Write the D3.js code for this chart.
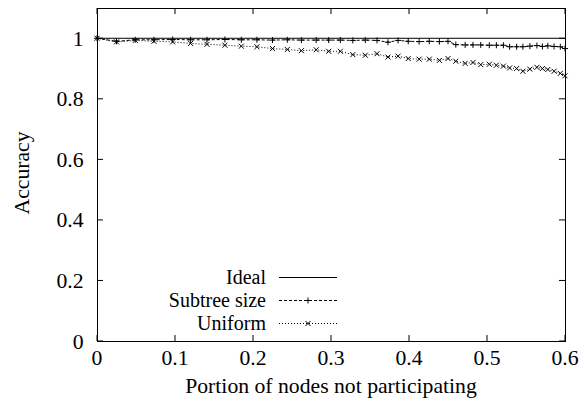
<!DOCTYPE html>
<html><head><meta charset="utf-8">
<script src="https://cdn.jsdelivr.net/npm/d3@7"></script>
<style>
html,body{margin:0;padding:0;background:#fff;}
</style></head>
<body><svg id="c" width="585" height="407"></svg>
<script>
const xValues = [0,0.025,0.049,0.073,0.097,0.120,0.141,0.164,0.185,0.205,0.225,0.244,0.262,0.281,0.297,0.312,0.328,0.344,0.359,0.373,0.386,0.399,0.413,0.426,0.439,0.450,0.460,0.472,0.482,0.492,0.503,0.512,0.521,0.529,0.538,0.546,0.555,0.564,0.571,0.578,0.586,0.594,0.600];
const subtreeValues = [1.0,0.99,0.995,0.995,0.996,0.995,0.995,0.996,0.995,0.995,0.994,0.995,0.994,0.994,0.994,0.994,0.993,0.994,0.993,0.987,0.993,0.990,0.989,0.990,0.989,0.990,0.979,0.978,0.978,0.978,0.977,0.977,0.977,0.972,0.972,0.972,0.974,0.976,0.973,0.975,0.973,0.972,0.966];
const uniformValues = [1.0,0.988,0.993,0.990,0.988,0.983,0.980,0.977,0.974,0.972,0.966,0.963,0.959,0.962,0.957,0.957,0.946,0.944,0.949,0.938,0.941,0.933,0.931,0.931,0.927,0.933,0.924,0.917,0.920,0.913,0.914,0.911,0.908,0.902,0.900,0.891,0.898,0.904,0.900,0.897,0.891,0.884,0.876];
const idealValue = 1.0;
const xTicks = [0,0.1,0.2,0.3,0.4,0.5,0.6];
const yTicks = [0,0.2,0.4,0.6,0.8,1];
const legendLabels = ["Ideal","Subtree size","Uniform"];

const FONT = '"Liberation Serif"';
const svg = d3.select("#c");
const L=97, R=565, T=8, B=341;
const x = d3.scaleLinear().domain([0,0.6]).range([L,R]);
const y = d3.scaleLinear().domain([0,1.1]).range([B,T]);
const fs = 21.7;
function txt(sel, size){ return sel.append("text").style("font-family",FONT).attr("font-size",size||fs).attr("fill","#000"); }

const g = svg.append("g");
xTicks.forEach(t=>{
  g.append("line").attr("x1",x(t)).attr("x2",x(t)).attr("y1",B).attr("y2",B-6).attr("stroke","#000");
  g.append("line").attr("x1",x(t)).attr("x2",x(t)).attr("y1",T).attr("y2",T+6).attr("stroke","#000");
  txt(g).attr("x",x(t)).attr("y",365).attr("text-anchor","middle").text(d3.format("")(t));
});
yTicks.forEach(t=>{
  g.append("line").attr("x1",L).attr("x2",L+6).attr("y1",y(t)).attr("y2",y(t)).attr("stroke","#000");
  g.append("line").attr("x1",R).attr("x2",R-6).attr("y1",y(t)).attr("y2",y(t)).attr("stroke","#000");
  txt(g).attr("x",L-13.5).attr("y",y(t)+7.5).attr("text-anchor","end").text(d3.format("")(t));
});
svg.append("rect").attr("x",L+0.5).attr("y",T+0.5).attr("width",R-L).attr("height",B-T).attr("fill","none").attr("stroke","#000").attr("stroke-width",1);

txt(svg).attr("transform","translate(28.5,173) rotate(-90)").attr("text-anchor","middle").text("Accuracy");
txt(svg).attr("x",331).attr("y",393).attr("text-anchor","middle").text("Portion of nodes not participating");

const line = d3.line().x(d=>x(d[0])).y(d=>y(d[1]));
const sub = xValues.map((v,i)=>[v,subtreeValues[i]]);
const uni = xValues.map((v,i)=>[v,uniformValues[i]]);

svg.append("path").attr("d",line([[0,idealValue],[0.6,idealValue]])).attr("fill","none").attr("stroke","#000").attr("stroke-width",1);
svg.append("path").attr("d",line(uni)).attr("fill","none").attr("stroke","#000").attr("stroke-width",1).attr("stroke-dasharray","1,2");
svg.append("path").attr("d",line(sub)).attr("fill","none").attr("stroke","#000").attr("stroke-width",1).attr("stroke-dasharray","3,2");

function plus(sel,cx,cy){ const s=3;
  sel.append("path").attr("d",`M${cx-s},${cy}H${cx+s}M${cx},${cy-s}V${cy+s}`).attr("stroke","#000").attr("fill","none");}
function cross(sel,cx,cy){ const s=2.5;
  sel.append("path").attr("d",`M${cx-s},${cy-s}L${cx+s},${cy+s}M${cx-s},${cy+s}L${cx+s},${cy-s}`).attr("stroke","#000").attr("fill","none");}
const m = svg.append("g");
sub.forEach(d=>plus(m,x(d[0]),y(d[1])));
uni.forEach(d=>cross(m,x(d[0]),y(d[1])));

const lx1=279, lx2=337, ltx=266;
const rows=[277.5,300.5,323.5];
const styles=[null,"3,2","1,2"];
legendLabels.forEach((lab,i)=>{
  txt(svg, 20).attr("x",ltx).attr("y",rows[i]+6.5).attr("text-anchor","end").text(lab);
  const ln=svg.append("line").attr("x1",lx1).attr("x2",lx2).attr("y1",rows[i]).attr("y2",rows[i]).attr("stroke","#000");
  if(styles[i]) ln.attr("stroke-dasharray",styles[i]);
  if(i===1) plus(svg,(lx1+lx2)/2,rows[i]);
  if(i===2) cross(svg,(lx1+lx2)/2,rows[i]);
});
</script></body></html>
